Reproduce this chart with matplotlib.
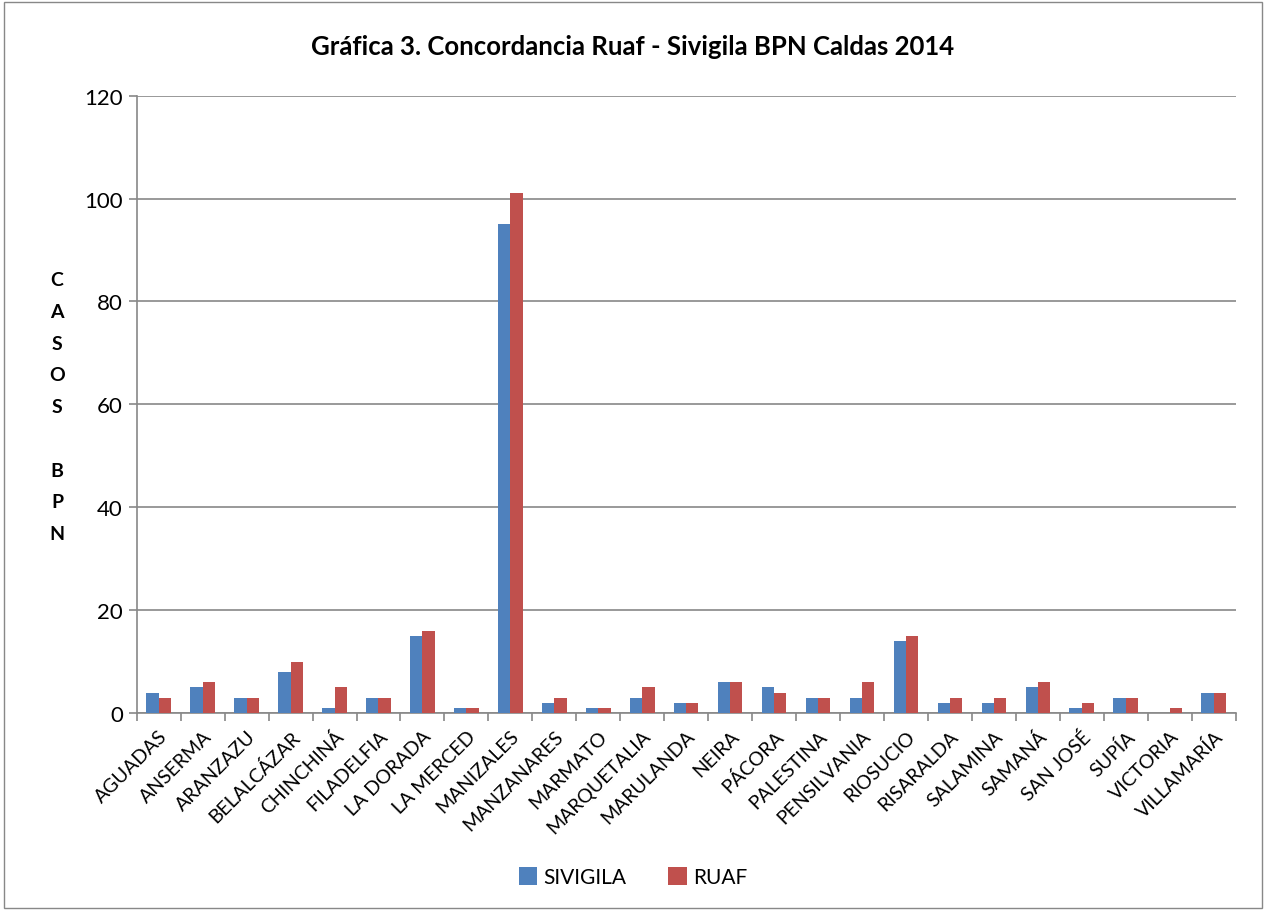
import matplotlib.pyplot as plt
import numpy as np

municipios = ['AGUADAS', 'ANSERMA', 'ARANZAZU', 'BELALCÁZAR', 'CHINCHINÁ', 'FILADELFIA',
              'LA DORADA', 'LA MERCED', 'MANIZALES', 'MANZANARES', 'MARMATO', 'MARQUETALIA',
              'MARULANDA', 'NEIRA', 'PÁCORA', 'PALESTINA', 'PENSILVANIA', 'RIOSUCIO',
              'RISARALDA', 'SALAMINA', 'SAMANÁ', 'SAN JOSÉ', 'SUPÍA', 'VICTORIA', 'VILLAMARÍA']
sivigila = [4, 5, 3, 8, 1, 3, 15, 1, 95, 2, 1, 3, 2, 6, 5, 3, 3, 14, 2, 2, 5, 1, 3, 0, 4]
ruaf = [3, 6, 3, 10, 5, 3, 16, 1, 101, 3, 1, 5, 2, 6, 4, 3, 6, 15, 3, 3, 6, 2, 3, 1, 4]

plt.rcParams['font.family'] = ['Lato', 'DejaVu Sans']

fig = plt.figure(figsize=(12.66, 9.12), dpi=100)
ax = fig.add_axes([0.108, 0.217, 0.868, 0.677])

# marco exterior del grafico
fig.patches.append(plt.Rectangle((0.003, 0.003), 0.994, 0.994, transform=fig.transFigure,
                                 fill=False, edgecolor='#888888', lw=1))

x = np.arange(len(municipios))
w = 0.28
ax.bar(x - w / 2, sivigila, w, color='#4F81BD', label='SIVIGILA', zorder=3)
ax.bar(x + w / 2, ruaf, w, color='#C0504D', label='RUAF', zorder=3)

ax.set_xlim(-0.5, len(municipios) - 0.5)
ax.set_ylim(0, 120)
ax.set_yticks(range(0, 121, 20))
ax.yaxis.grid(True, color='#888888', lw=1.2, zorder=0)

ax.set_xticks(np.arange(-0.5, len(municipios), 1), minor=False)
ax.set_xticklabels([])
ax.set_xticks(x, minor=True)
ax.set_xticklabels(municipios, minor=True, rotation=45, ha='right', va='top',
                   rotation_mode='anchor', fontsize=14)
ax.tick_params(axis='x', which='major', length=6, color='#888888', width=1.2)
ax.tick_params(axis='x', which='minor', length=0, pad=10)
ax.tick_params(axis='y', length=6, color='#888888', width=1.2, labelsize=16, pad=4)

for s in ['top', 'right']:
    ax.spines[s].set_visible(False)
for s in ['left', 'bottom']:
    ax.spines[s].set_color('#888888')
    ax.spines[s].set_linewidth(1.2)

fig.text(0.5, 0.948, 'Gráfica 3. Concordancia Ruaf - Sivigila BPN Caldas 2014',
         ha='center', va='center', fontsize=18.5, fontweight='bold')

ylab = 'CASOS BPN'
fig.text(0.045, 0.553, '\n'.join(ylab), ha='center', va='center', fontsize=14,
         fontweight='bold', linespacing=2.05)

fig.legend(loc='center', bbox_to_anchor=(0.5, 0.037), ncol=2, frameon=False,
           fontsize=15, handlelength=0.9, handleheight=0.9, columnspacing=2.0,
           handletextpad=0.3)

fig.savefig('out.png', dpi=100)
